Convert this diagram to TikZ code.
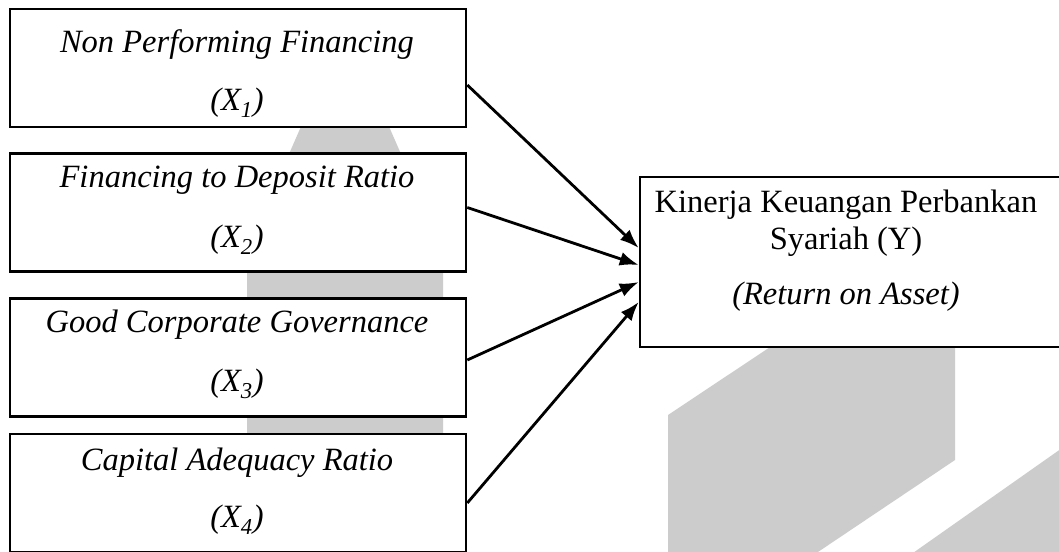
\documentclass[tikz,border=0pt]{standalone}
\usepackage{fontspec}
\setmainfont{Liberation Serif}
\usetikzlibrary{arrows.meta,calc}
\definecolor{wm}{HTML}{CCCCCC}
\begin{document}
\begin{tikzpicture}[x=1pt,y=-1pt,
  varbox/.style={draw=black,line width=2.6pt,fill=white,minimum width=456pt,minimum height=118pt,inner sep=0pt},
  ybox/.style={draw=black,line width=2.6pt,fill=white,minimum width=420pt,minimum height=170pt,inner sep=0pt},
  lbl/.style={inner sep=0pt,font=\fontsize{32.5}{38}\selectfont\itshape},
  ulbl/.style={inner sep=0pt,font=\fontsize{32.5}{38}\selectfont},
  link/.style={line width=2.8pt,-{Latex[length=19pt,width=14pt]}}]
\useasboundingbox (0,0) rectangle (1059,551);
\fill[white] (0,0) rectangle (1059,551);
% watermark
\fill[wm] (247,560) -- (247,250) -- (345,26) -- (443,250) -- (443,560) -- cycle;
\fill[wm] (668,560) -- (668,415) -- (955,224) -- (955,460) -- (806,560) -- cycle;
\fill[wm] (903,560) -- (1065,446) -- (1065,560) -- cycle;
% boxes
\node[varbox] (b1) at (238,68) {};
\node[varbox] (b2) at (238,212.5) {};
\node[varbox] (b3) at (238,357.5) {};
\node[varbox] (b4) at (238,493) {};
\node[ybox] (y) at (850,262) {};
% labels
\node[lbl] (t1a) at (237,45) {Non Performing Financing};
\node[lbl] (t1b) at (237,103) {(X\textsubscript{1})};
\node[lbl] (t2a) at (237,180) {Financing to Deposit Ratio};
\node[lbl] (t2b) at (237,240) {(X\textsubscript{2})};
\node[lbl] (t3a) at (237,325) {Good Corporate Governance};
\node[lbl] (t3b) at (237,384) {(X\textsubscript{3})};
\node[lbl] (t4a) at (237,463) {Capital Adequacy Ratio};
\node[lbl] (t4b) at (237,520) {(X\textsubscript{4})};
\node[ulbl] (ya) at (846,205) {Kinerja Keuangan Perbankan};
\node[ulbl] (yb) at (846,242) {Syariah (Y)};
\node[lbl] (yc) at (846,297) {(Return on Asset)};
% connectors
\draw[link] ([yshift=-17pt]b1.east) -- ([yshift=14pt]y.west);
\draw[link] ([yshift=5pt]b2.east) -- ([yshift=-3pt]y.west);
\draw[link] ([yshift=-2.5pt]b3.east) -- ([yshift=-20pt]y.west);
\draw[link] ([yshift=-10pt]b4.east) -- ([yshift=-40pt]y.west);
\end{tikzpicture}
\end{document}
